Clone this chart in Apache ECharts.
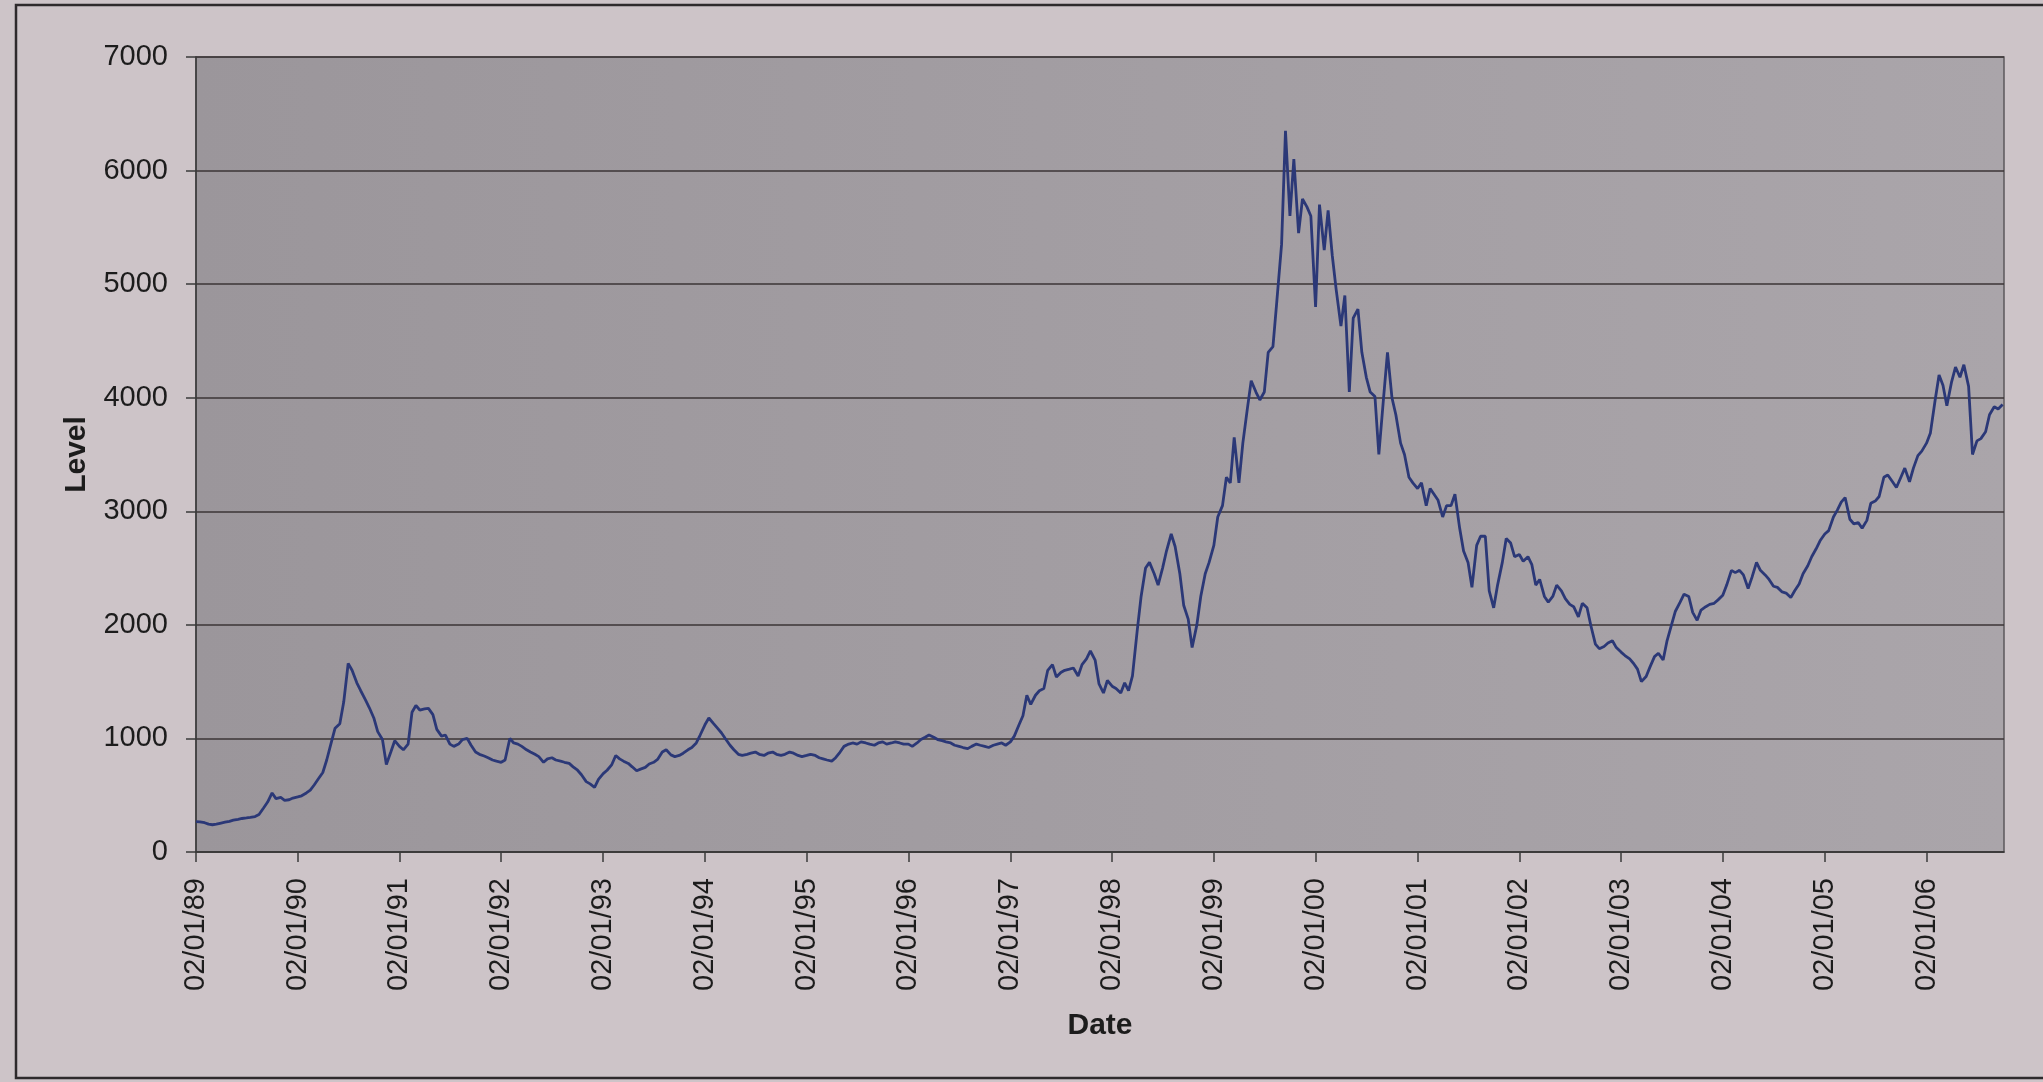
<!DOCTYPE html>
<html>
<head>
<meta charset="utf-8">
<title>Level</title>
<script src="https://cdn.jsdelivr.net/npm/echarts@6/dist/echarts.min.js"></script>
<style>
  html, body { margin: 0; padding: 0; background: #cdc4c8; }
  #chart { width: 2043px; height: 1082px; }
</style>
</head>
<body>
<div id="chart"></div>
<script>
// Index level, sampled twice a month (on the 2nd and the 16th).
const level1989 = [268, 265, 258, 245, 240, 245, 255, 262, 270, 280, 288, 295, 300, 305, 312, 330, 390, 440, 520, 470, 480, 455, 460, 475];
const level1990 = [485, 495, 520, 545, 590, 640, 700, 810, 960, 1090, 1130, 1320, 1660, 1600, 1490, 1420, 1340, 1270, 1180, 1060, 990, 770, 880, 980];
const level1991 = [930, 900, 950, 1230, 1290, 1250, 1260, 1265, 1210, 1080, 1020, 1030, 950, 930, 950, 990, 1000, 940, 880, 860, 845, 830, 810, 800];
const level1992 = [790, 810, 1000, 960, 950, 930, 900, 880, 860, 840, 790, 820, 830, 810, 800, 790, 780, 750, 720, 680, 620, 600, 570, 640];
const level1993 = [690, 720, 770, 850, 820, 800, 780, 750, 715, 730, 745, 775, 790, 815, 880, 900, 855, 840, 850, 870, 900, 920, 960, 1030];
const level1994 = [1120, 1180, 1130, 1090, 1050, 1000, 940, 900, 860, 850, 860, 870, 880, 860, 850, 870, 880, 860, 850, 860, 880, 870, 850, 840];
const level1995 = [850, 860, 850, 830, 820, 810, 800, 830, 880, 930, 950, 960, 950, 970, 960, 950, 940, 960, 970, 950, 960, 970, 960, 950];
const level1996 = [950, 930, 960, 990, 1010, 1030, 1010, 990, 980, 970, 960, 940, 930, 920, 910, 930, 950, 940, 930, 920, 940, 950, 960, 940];
const level1997 = [970, 1020, 1120, 1200, 1380, 1300, 1380, 1420, 1440, 1600, 1650, 1540, 1580, 1600, 1610, 1620, 1550, 1650, 1700, 1770, 1690, 1480, 1400, 1510];
const level1998 = [1460, 1440, 1400, 1490, 1420, 1550, 1950, 2250, 2500, 2550, 2450, 2350, 2500, 2650, 2800, 2690, 2450, 2170, 2050, 1800, 2000, 2250, 2450, 2550];
const level1999 = [2700, 2950, 3050, 3300, 3250, 3650, 3250, 3600, 3900, 4150, 4050, 3980, 4050, 4400, 4450, 4850, 5350, 6350, 5600, 6100, 5450, 5750, 5680, 5600];
const level2000 = [4800, 5700, 5300, 5650, 5250, 4950, 4630, 4900, 4050, 4700, 4780, 4400, 4180, 4050, 4010, 3500, 4000, 4400, 4000, 3850, 3600, 3500, 3300, 3250];
const level2001 = [3200, 3250, 3050, 3200, 3150, 3100, 2950, 3050, 3050, 3150, 2850, 2650, 2550, 2330, 2700, 2780, 2780, 2300, 2150, 2350, 2550, 2760, 2720, 2600];
const level2002 = [2620, 2560, 2600, 2530, 2350, 2400, 2250, 2200, 2250, 2350, 2300, 2230, 2180, 2160, 2070, 2190, 2150, 1990, 1830, 1790, 1810, 1840, 1860, 1800];
const level2003 = [1760, 1730, 1700, 1660, 1610, 1500, 1545, 1630, 1720, 1750, 1690, 1860, 2000, 2120, 2200, 2270, 2250, 2110, 2040, 2130, 2160, 2180, 2190, 2220];
const level2004 = [2260, 2350, 2480, 2460, 2480, 2440, 2320, 2420, 2550, 2480, 2440, 2400, 2340, 2330, 2290, 2280, 2240, 2300, 2360, 2450, 2520, 2600, 2670, 2740];
const level2005 = [2800, 2830, 2950, 3010, 3080, 3120, 2930, 2890, 2900, 2850, 2920, 3070, 3090, 3130, 3300, 3320, 3260, 3210, 3300, 3380, 3260, 3380, 3490, 3530];
const level2006 = [3600, 3690, 3980, 4200, 4110, 3930, 4140, 4270, 4180, 4290, 4100, 3500, 3620, 3640, 3700, 3850, 3920, 3900, 3940];

const levelsByYear = [
  [1989, level1989], [1990, level1990], [1991, level1991], [1992, level1992],
  [1993, level1993], [1994, level1994], [1995, level1995], [1996, level1996],
  [1997, level1997], [1998, level1998], [1999, level1999], [2000, level2000],
  [2001, level2001], [2002, level2002], [2003, level2003], [2004, level2004],
  [2005, level2005], [2006, level2006]
];

// Date axis: major unit one year, starting from 02/01/89.
const tickYears = [1989, 1990, 1991, 1992, 1993, 1994, 1995, 1996, 1997,
                   1998, 1999, 2000, 2001, 2002, 2003, 2004, 2005, 2006];
const axisStart = Date.UTC(1989, 0, 2);
const axisEnd = Date.UTC(2006, 9, 7);
const yMax = 7000;
const yStep = 1000;

const tickValues = tickYears.map(y => Date.UTC(y, 0, 2));

const seriesData = [];
levelsByYear.forEach(([year, values]) => {
  values.forEach((v, k) => {
    const month = Math.floor(k / 2);
    const day = k % 2 === 0 ? 2 : 16;
    seriesData.push([Date.UTC(year, month, day), v]);
  });
});

const pad2 = n => (n < 10 ? '0' : '') + n;
const formatDate = ts => {
  const d = new Date(ts);
  return pad2(d.getUTCDate()) + '/' + pad2(d.getUTCMonth() + 1) + '/' + pad2(d.getUTCFullYear() % 100);
};

const FONT = '"Liberation Sans", Arial, sans-serif';
const chart = echarts.init(document.getElementById('chart'), null, { renderer: 'canvas' });

chart.setOption({
  backgroundColor: '#cdc4c8',
  animation: false,
  graphic: [{
    type: 'rect',
    shape: { x: 16, y: 5, width: 2100, height: 1073 },
    style: { fill: 'none', stroke: '#2e2a2c', lineWidth: 2.5 },
    silent: true
  }],
  grid: {
    left: 196, right: 39, top: 57, bottom: 230,
    show: true,
    borderColor: '#5c585c',
    borderWidth: 1.5,
    backgroundColor: {
      type: 'linear', x: 0, y: 0, x2: 1, y2: 0,
      colorStops: [
        { offset: 0, color: '#9b969b' },
        { offset: 1, color: '#aaa5aa' }
      ]
    }
  },
  xAxis: {
    type: 'value',
    min: axisStart,
    max: axisEnd,
    name: 'Date',
    nameLocation: 'middle',
    nameGap: 159,
    nameTextStyle: { fontFamily: FONT, fontSize: 30, fontWeight: 'bold', color: '#1c1c1c' },
    axisLine: { show: true, onZero: false, lineStyle: { color: '#3a3a3a', width: 1.5 } },
    axisTick: {
      show: true, inside: false, length: 10,
      customValues: tickValues,
      lineStyle: { color: '#3a3a3a', width: 1.5 }
    },
    axisLabel: {
      customValues: tickValues,
      rotate: 90,
      margin: 26,
      fontFamily: FONT,
      fontSize: 29,
      color: '#1c1c1c',
      formatter: value => formatDate(value)
    },
    splitLine: { show: false }
  },
  yAxis: {
    type: 'value',
    min: 0,
    max: yMax,
    interval: yStep,
    name: 'Level',
    nameLocation: 'middle',
    nameGap: 104,
    nameRotate: 90,
    nameTextStyle: { fontFamily: FONT, fontSize: 30, fontWeight: 'bold', color: '#1c1c1c' },
    axisLine: { show: true, lineStyle: { color: '#3a3a3a', width: 1.5 } },
    axisTick: { show: true, inside: false, length: 10, lineStyle: { color: '#3a3a3a', width: 1.5 } },
    axisLabel: {
      margin: 28, fontFamily: FONT, fontSize: 29, color: '#1c1c1c',
      formatter: value => String(value)
    },
    splitLine: { show: true, lineStyle: { color: '#3b3536', width: 1.5 } }
  },
  series: [{
    name: 'Level',
    type: 'line',
    data: seriesData,
    showSymbol: false,
    symbol: 'none',
    smooth: false,
    lineStyle: { color: '#2b3877', width: 2.8 },
    z: 3
  }]
});
</script>
</body>
</html>
